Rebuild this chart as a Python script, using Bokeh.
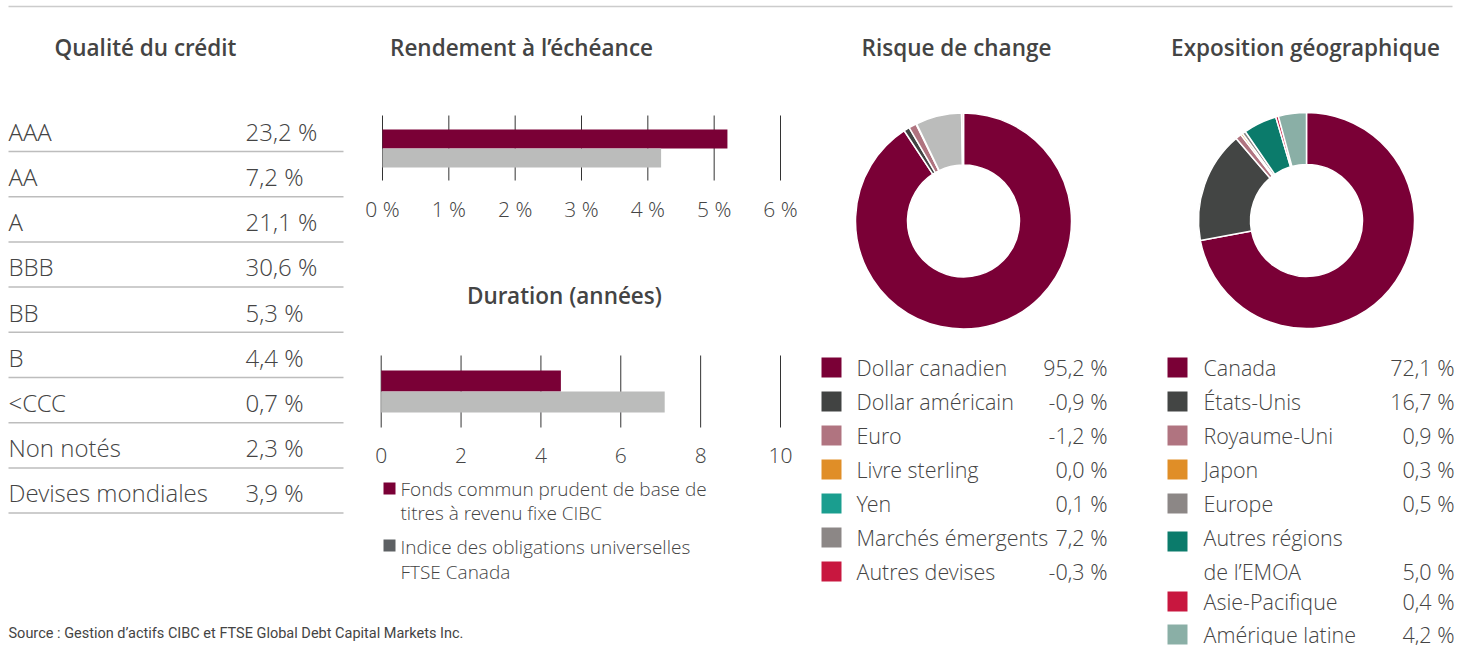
from bokeh.plotting import figure
from bokeh.models import Range1d
from bokeh.core.properties import value
from bokeh.embed import file_html
from bokeh.resources import INLINE

# ---------------- data ----------------
credit_labels = ["AAA", "AA", "A", "BBB", "BB", "B", "<CCC", "Non notés", "Devises mondiales"]
credit_values = [23.2, 7.2, 21.1, 30.6, 5.3, 4.4, 0.7, 2.3, 3.9]

series_names = ["Fonds commun prudent de base de", "titres à revenu fixe CIBC",
                "Indice des obligations universelles", "FTSE Canada"]
ytm_values = [5.2, 4.2]
ytm_ticks = [0, 1, 2, 3, 4, 5, 6]
dur_values = [4.5, 7.1]
dur_ticks = [0, 2, 4, 6, 8, 10]

fx_labels = ["Dollar canadien", "Dollar américain", "Euro", "Livre sterling", "Yen",
             "Marchés émergents", "Autres devises"]
fx_values = [95.2, -0.9, -1.2, 0.0, 0.1, 7.2, -0.3]
fx_colors = ["#7a0036", "#414342", "#b07480", "#e08e27", "#1a9e8f", "#bbbcbb", "#f3c9d3"]
fx_legend_colors = ["#7a0036", "#414342", "#b07480", "#e08e27", "#1a9e8f", "#8c8786", "#c8173f"]

geo_labels = ["Canada", "États-Unis", "Royaume-Uni", "Japon", "Europe",
              "Autres régions", "Asie-Pacifique", "Amérique latine"]
geo_values = [72.1, 16.7, 0.9, 0.3, 0.5, 5.0, 0.4, 4.2]
geo_colors = ["#7a0036", "#434544", "#b07480", "#e08e27", "#8c8786", "#0b7b6b", "#c8173f", "#8aafa6"]

MAROON = "#7a0036"
LIGHTGREY = "#bbbcbb"
TXT = "#444444"

W, H = 1466, 645
FONT = value("Open Sans Light, Open Sans")
BOLD_FONT = value("Open Sans SemiBold, Open Sans")
NOTE_FONT = value("Roboto")


def X(sx):
    return sx


def Y(sy):
    return H - sy


def fmt(v):
    return f"{v:.1f}".replace(".", ",") + " %"


p = figure(width=W, height=H, output_backend="svg", toolbar_location=None,
           x_range=Range1d(0, W), y_range=Range1d(0, H), min_border=0)
p.axis.visible = False
p.grid.visible = False
p.outline_line_color = None
p.background_fill_color = "white"

# extra ranges for the two bar charts
y0_px, y1_px = X(382), X(780)
ppu = (y1_px - y0_px) / ytm_ticks[-1]
p.extra_x_ranges["ytm"] = Range1d(-y0_px / ppu, (W - y0_px) / ppu)
d0_px, d1_px = X(380.7), X(780)
ppu2 = (d1_px - d0_px) / dur_ticks[-1]
p.extra_x_ranges["dur"] = Range1d(-d0_px / ppu2, (W - d0_px) / ppu2)

# top rule
p.segment(x0=[X(8)], x1=[X(1452)], y0=[Y(6)], y1=[Y(6)], line_color="#cccccc", line_width=1.5)


# titles
def title(txt, cx, cy):
    p.text(x=[X(cx)], y=[Y(cy)], text=[txt], text_font=BOLD_FONT, text_font_style="bold",
           text_font_size="22.5px", text_color=TXT, text_align="center", text_baseline="middle")


title("Qualité du crédit", 145, 47)
title("Rendement à l’échéance", 521, 47)
title("Duration (années)", 564, 295)
title("Risque de change", 956, 47)
title("Exposition géographique", 1305, 47)

# ---- credit quality table ----
row_y = [Y(131 + 45.15 * i) for i in range(len(credit_labels))]
line_y = [Y(151 + 45.2 * i) for i in range(len(credit_labels))]
p.text(x=[X(8)] * len(credit_labels), y=row_y, text=credit_labels, text_font=FONT,
       text_font_size="24px", text_color=TXT, text_baseline="middle", text_align="left")
p.text(x=[X(245)] * len(credit_values), y=row_y, text=[fmt(v) for v in credit_values],
       text_font=FONT, text_font_size="24px", text_color=TXT, text_baseline="middle", text_align="left")
p.segment(x0=[X(8)] * len(line_y), x1=[X(343)] * len(line_y), y0=line_y, y1=line_y,
          line_color="#bdbdbd", line_width=1.5)

# ---- yield bar chart ----
p.segment(x0=ytm_ticks, x1=ytm_ticks, y0=[Y(115)] * len(ytm_ticks), y1=[Y(180)] * len(ytm_ticks),
          line_color="#333333", line_width=1, x_range_name="ytm")
p.hbar(y=[Y(138.5), Y(157.5)], height=19, left=0, right=ytm_values,
       fill_color=[MAROON, LIGHTGREY], line_color=None, x_range_name="ytm")
p.text(x=ytm_ticks, y=[Y(208)] * len(ytm_ticks), text=[f"{t} %" for t in ytm_ticks],
       text_font=FONT, text_font_size="21px", text_color=TXT, text_align="center",
       text_baseline="middle", x_range_name="ytm")

# ---- duration bar chart ----
p.segment(x0=dur_ticks, x1=dur_ticks, y0=[Y(355)] * len(dur_ticks), y1=[Y(427)] * len(dur_ticks),
          line_color="#333333", line_width=1, x_range_name="dur")
p.hbar(y=[Y(380.5), Y(401.5)], height=21, left=0, right=dur_values,
       fill_color=[MAROON, LIGHTGREY], line_color=None, x_range_name="dur")
p.text(x=dur_ticks, y=[Y(455)] * len(dur_ticks), text=[str(t) for t in dur_ticks],
       text_font=FONT, text_font_size="21px", text_color=TXT, text_align="center",
       text_baseline="middle", x_range_name="dur")

# bar legend
p.rect(x=[X(389)] * 2, y=[Y(488), Y(545)], width=12, height=12,
       fill_color=[MAROON, "#5d6063"], line_color=None)
p.text(x=[X(400)] * 4, y=[Y(488), Y(512), Y(546), Y(571)], text=series_names,
       text_font=FONT, text_font_size="19px", text_color=TXT, text_baseline="middle", text_align="left")


# ---- donuts ----
def donut(vals, colors, cx, cy):
    a = [abs(v) for v in vals]
    tot = sum(a)
    cum = [0]
    for v in a:
        cum.append(cum[-1] + v)
    idx = [i for i in range(len(a)) if a[i] > 0]
    starts = [90 - 360 * cum[i + 1] / tot for i in idx]
    ends = [90 - 360 * cum[i] / tot for i in idx]
    p.annular_wedge(x=[X(cx)] * len(idx), y=[Y(cy)] * len(idx), inner_radius=56, outer_radius=108,
                    inner_radius_units="screen", outer_radius_units="screen",
                    start_angle=starts, end_angle=ends, start_angle_units="deg", end_angle_units="deg",
                    fill_color=[colors[i] for i in idx], line_color="white", line_width=1.5)


donut(fx_values, fx_colors, 963, 220.5)
donut(geo_values, geo_colors, 1306, 220)

# fx legend
fx_y = [Y(367 + 34 * i) for i in range(len(fx_labels))]
p.rect(x=[X(831)] * len(fx_labels), y=fx_y, width=20, height=20, fill_color=fx_legend_colors, line_color=None)
p.text(x=[X(856)] * len(fx_labels), y=fx_y, text=fx_labels, text_font=FONT, text_font_size="21.5px",
       text_color=TXT, text_baseline="middle", text_align="left")
p.text(x=[X(1107)] * len(fx_values), y=fx_y, text=[fmt(v) for v in fx_values], text_font=FONT,
       text_font_size="21.5px", text_color=TXT, text_baseline="middle", text_align="right")

# geo legend
geo_rows = [367 + 34 * i + (30 if i >= 6 else 0) for i in range(len(geo_labels))]
geo_rows[-1] -= 1
geo_sq = [r + (4 if i == 5 else 0) for i, r in enumerate(geo_rows)]
geo_val_rows = [r + (34 if i == 5 else 0) for i, r in enumerate(geo_rows)]
p.rect(x=[X(1177)] * len(geo_labels), y=[Y(v) for v in geo_sq], width=20, height=20,
       fill_color=geo_colors, line_color=None)
p.text(x=[X(1203)] * len(geo_labels), y=[Y(v) for v in geo_rows], text=geo_labels, text_font=FONT,
       text_font_size="21.5px", text_color=TXT, text_baseline="middle", text_align="left")
p.text(x=[X(1203)], y=[Y(geo_rows[5] + 34)], text=["de l’EMOA"], text_font=FONT,
       text_font_size="21.5px", text_color=TXT, text_baseline="middle", text_align="left")
p.text(x=[X(1454)] * len(geo_values), y=[Y(v) for v in geo_val_rows], text=[fmt(v) for v in geo_values],
       text_font=FONT, text_font_size="21.5px", text_color=TXT, text_baseline="middle", text_align="right")

# footnotes
p.text(x=[X(8)], y=[Y(633)], text=["Source : Gestion d’actifs CIBC et FTSE Global Debt Capital Markets Inc."],
       text_font=NOTE_FONT, text_font_size="14.5px", text_color=TXT,
       text_baseline="middle", text_align="left")
p.text(x=[X(8)], y=[Y(651)],
       text=["En raison de l’arrondissement, il est possible que le total des pourcentages ne corresponde pas à 100 %."],
       text_font=NOTE_FONT, text_font_size="14.5px", text_color=TXT,
       text_baseline="middle", text_align="left")

open("out.html", "w").write(file_html(p, INLINE))
